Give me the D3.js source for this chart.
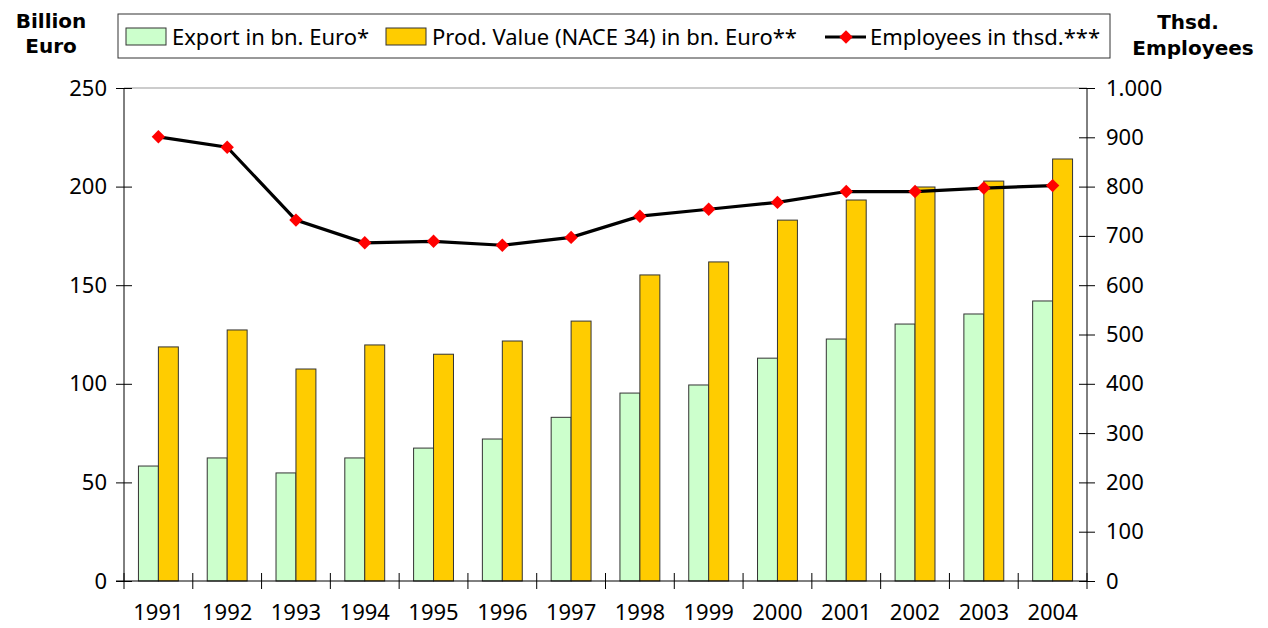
<!DOCTYPE html>
<html><head><meta charset="utf-8">
<script src="https://cdn.jsdelivr.net/npm/d3@7"></script>
<style>body{margin:0;background:#fff}svg{display:block}</style>
</head><body>
<svg id="c" width="1268" height="628"></svg>
<script>
const years = ["1991","1992","1993","1994","1995","1996","1997","1998","1999","2000","2001","2002","2003","2004"];
const exportVals = [58.3, 62.4, 54.8, 62.4, 67.4, 72, 83, 95.3, 99.4, 113, 122.7, 130.3, 135.4, 142];
const prodVals = [118.7, 127.3, 107.5, 119.7, 115, 121.7, 131.8, 155.2, 161.8, 183, 193.2, 199.8, 202.8, 214];
const employees = [901, 880, 732, 686, 689, 681, 697, 740, 754, 768, 790, 790, 797, 802];
const leftTicks = [0, 50, 100, 150, 200, 250];
const rightTicks = [0, 100, 200, 300, 400, 500, 600, 700, 800, 900, 1000];
const legendLabels = ["Export in bn. Euro*", "Prod. Value (NACE 34) in bn. Euro**", "Employees in thsd.***"];

const FONT = "'Noto Sans', 'DejaVu Sans', sans-serif";
const BFONT = "'DejaVu Sans', sans-serif";
const FS = 22;
const svg = d3.select("#c");
const L = 124, R = 1087, T = 88, B = 581;

const x = d3.scaleBand().domain(years).range([L, R]).padding(0);
const yL = d3.scaleLinear().domain([0, 250]).range([B, T]);
const yR = d3.scaleLinear().domain([0, 1000]).range([B, T]);
const bw = x.bandwidth() * 0.29;

// top border
svg.append("line").attr("x1", L).attr("x2", R).attr("y1", T).attr("y2", T)
  .attr("stroke", "#999").attr("stroke-width", 1);

// bars
const g = svg.append("g");
g.selectAll("rect.ex").data(years).join("rect")
  .attr("x", d => x(d) + x.bandwidth()/2 - bw)
  .attr("y", (d,i) => yL(exportVals[i]))
  .attr("width", bw).attr("height", (d,i) => yL(0) - yL(exportVals[i]))
  .attr("fill", "#CCFFCC").attr("stroke", "#333").attr("stroke-width", 1);
g.selectAll("rect.pr").data(years).join("rect")
  .attr("x", d => x(d) + x.bandwidth()/2)
  .attr("y", (d,i) => yL(prodVals[i]))
  .attr("width", bw).attr("height", (d,i) => yL(0) - yL(prodVals[i]))
  .attr("fill", "#FFCC00").attr("stroke", "#333").attr("stroke-width", 1);

// axes
const axL = d3.axisLeft(yL).tickValues(leftTicks).tickSize(8).tickFormat(d3.format("d"));
const gl = svg.append("g").attr("transform", `translate(${L},0)`).call(axL);
gl.select(".domain").remove();
gl.selectAll(".tick line").attr("x2", 8).attr("x1", -8).attr("stroke", "#000");
gl.selectAll(".tick text").attr("x", -17).attr("font-family", FONT).attr("font-size", FS).attr("fill", "#000");
svg.append("line").attr("x1", L).attr("x2", L).attr("y1", T).attr("y2", B).attr("stroke", "#000");

const axR = d3.axisRight(yR).tickValues(rightTicks).tickSize(8)
  .tickFormat(d => d === 1000 ? "1.000" : String(d));
const gr = svg.append("g").attr("transform", `translate(${R},0)`).call(axR);
gr.select(".domain").remove();
gr.selectAll(".tick line").attr("x1", -8).attr("x2", 8).attr("stroke", "#000");
gr.selectAll(".tick text").attr("x", 19).attr("font-family", FONT).attr("font-size", FS).attr("fill", "#000");
svg.append("line").attr("x1", R).attr("x2", R).attr("y1", T).attr("y2", B).attr("stroke", "#000");

// x axis
svg.append("line").attr("x1", L - 8).attr("x2", R).attr("y1", B).attr("y2", B).attr("stroke", "#000");
const bounds = years.map(d => x(d)).concat([R]);
svg.selectAll("line.xt").data(bounds).join("line")
  .attr("x1", d => d).attr("x2", d => d).attr("y1", B - 8).attr("y2", B + 8).attr("stroke", "#000");
svg.selectAll("text.xl").data(years).join("text")
  .attr("x", d => x(d) + x.bandwidth()/2).attr("y", 620)
  .attr("text-anchor", "middle").attr("font-family", FONT).attr("font-size", FS).text(d => d);

// line
const line = d3.line().x((d,i) => x(years[i]) + x.bandwidth()/2).y(d => yR(d));
svg.append("path").datum(employees).attr("d", line).attr("fill", "none")
  .attr("stroke", "#000").attr("stroke-width", 3.2);
const diamond = d3.symbol().type(d3.symbolDiamond2).size(115);
svg.selectAll("path.mk").data(employees).join("path")
  .attr("d", diamond)
  .attr("transform", (d,i) => `translate(${x(years[i]) + x.bandwidth()/2},${yR(d)})`)
  .attr("fill", "#FF0000");

// axis titles
const title = (tx, ty, s) => svg.append("text").attr("x", tx).attr("y", ty).attr("text-anchor", "middle")
  .attr("font-family", BFONT).attr("font-weight", "bold").attr("font-size", 20).text(s);
title(51, 28, "Billion");
title(51, 53, "Euro");
title(1188, 29, "Thsd.");
title(1193, 55, "Employees");

// legend
const lg = svg.append("g");
lg.append("rect").attr("x", 118).attr("y", 14).attr("width", 992).attr("height", 44)
  .attr("fill", "#fff").attr("stroke", "#333").attr("stroke-width", 1);
lg.append("rect").attr("x", 126).attr("y", 28).attr("width", 40).attr("height", 17)
  .attr("fill", "#CCFFCC").attr("stroke", "#333");
lg.append("text").attr("x", 172).attr("y", 45).attr("font-family", FONT).attr("font-size", FS).text(legendLabels[0]);
lg.append("rect").attr("x", 386).attr("y", 28).attr("width", 40).attr("height", 17)
  .attr("fill", "#FFCC00").attr("stroke", "#333");
lg.append("text").attr("x", 432).attr("y", 45).attr("font-family", FONT).attr("font-size", FS).text(legendLabels[1]);
lg.append("line").attr("x1", 825).attr("x2", 866).attr("y1", 37).attr("y2", 37).attr("stroke", "#000").attr("stroke-width", 3.2);
lg.append("path").attr("d", diamond).attr("transform", "translate(846,37)").attr("fill", "#FF0000");
lg.append("text").attr("x", 870).attr("y", 45).attr("font-family", FONT).attr("font-size", FS).text(legendLabels[2]);
</script>
</body></html>
